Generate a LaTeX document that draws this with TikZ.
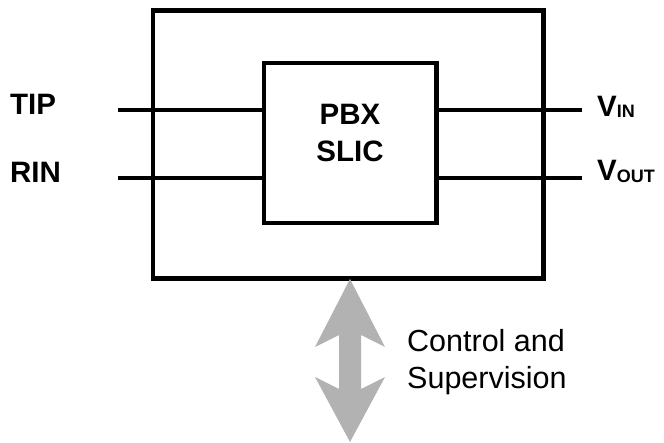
\documentclass[tikz,border=0pt]{standalone}
\usepackage{fontspec}
\setmainfont{Liberation Sans}
\begin{document}
\begin{tikzpicture}[x=1pt,y=-1pt,
  box/.style={draw=black,line width=4.8pt,inner sep=0pt,outer sep=0pt},
  wire/.style={draw=black,line width=4.8pt},
  blabel/.style={font=\fontsize{29.5}{34}\selectfont\bfseries,inner sep=0pt,anchor=base west},
  clabel/.style={font=\fontsize{29.5}{34}\selectfont\bfseries,inner sep=0pt,anchor=base},
  rlabel/.style={font=\fontsize{30.5}{36}\selectfont,inner sep=0pt,anchor=base west},
  arrowfill/.style={fill=black!30,draw=none}]
\useasboundingbox (0,0) rectangle (664,443);
% outer box
\node[box,minimum width=390.5pt,minimum height=268pt,anchor=north west] (outer) at (153,10.5) {};
% inner box
\node[box,minimum width=172.5pt,minimum height=160pt,anchor=north west] (inner) at (264,63) {};
% connector ends
\coordinate (tipL) at (118,110);
\coordinate (rinL) at (118,178);
\coordinate (vinR) at (582,110);
\coordinate (voutR) at (582,178);
\draw[wire] (tipL) -- (tipL -| inner.west);
\draw[wire] (rinL) -- (rinL -| inner.west);
\draw[wire] (vinR -| inner.east) -- (vinR);
\draw[wire] (voutR -| inner.east) -- (voutR);
% labels
\node[blabel] (tip) at (10,115) {TIP};
\node[blabel] (rin) at (10,183) {RIN};
\node[blabel] (vin) at (597,117) {V\raisebox{-1pt}{\fontsize{18}{20}\selectfont IN}};
\node[blabel] (vout) at (597,181) {V\raisebox{-1.5pt}{\fontsize{18}{20}\selectfont OUT}};
\node[clabel] (pbx) at (350,125) {PBX};
\node[clabel] (slic) at (350,162) {SLIC};
% control arrow
\fill[arrowfill] (350,279) -- (385,347) -- (361,335) -- (361,389) -- (385,377)
  -- (350,442) -- (315,377) -- (339,389) -- (339,335) -- (315,347) -- cycle;
\node[rlabel] (ctrl1) at (407,352) {Control and};
\node[rlabel] (ctrl2) at (407,389) {Supervision};
\end{tikzpicture}
\end{document}
